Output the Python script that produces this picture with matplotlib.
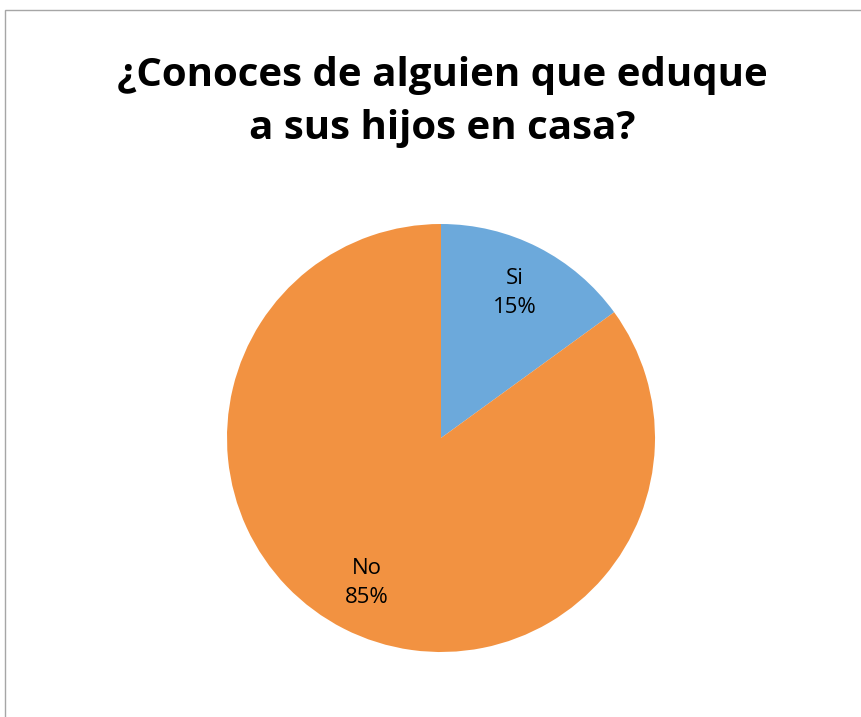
import matplotlib
matplotlib.use("Agg")
import matplotlib.pyplot as plt
from matplotlib.patches import Rectangle

categories = ["Si", "No"]
values = [15, 85]
colors = ["#6CA9DB", "#F29241"]
title = "¿Conoces de alguien que eduque\na sus hijos en casa?"

W, H = 862, 717
fig = plt.figure(figsize=(W / 100, H / 100), dpi=100)
fig.patch.set_facecolor("white")

# outer border (only top and left visible in reference)
fig.add_artist(Rectangle((5 / W, -0.1), 1.2, 1.1 - 10 / H,
                         transform=fig.transFigure, fill=False,
                         edgecolor="#A6A6A6", linewidth=1.0))

cx, cy, r = 441, 438, 214
ax = fig.add_axes([(cx - r) / W, (H - cy - r) / H, 2 * r / W, 2 * r / H])
wedges, texts = ax.pie(values, colors=colors, startangle=90, counterclock=False,
                       labels=[f"{c}\n{v}%" for c, v in zip(categories, values)],
                       labeldistance=0.76,
                       wedgeprops=dict(linewidth=0),
                       textprops=dict(fontsize=16, family=["Open Sans", "DejaVu Sans"],
                                      color="black", linespacing=1.5))
for t in texts:
    t.set_ha("center")
    t.set_va("center")
ax.set_xlim(-1, 1)
ax.set_ylim(-1, 1)
ax.set_aspect("equal")

fig.text(442 / W, 1 - 102 / H, title, ha="center", va="center",
         fontsize=29, fontweight="bold", family=["Open Sans", "DejaVu Sans"],
         linespacing=1.45)

fig.savefig("out.png", dpi=100)
